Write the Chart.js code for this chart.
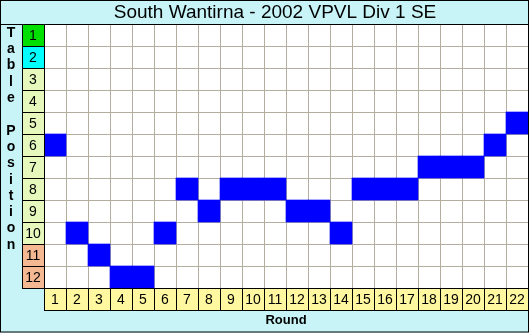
<html>
<head>
  <title>South Wantirna - 2002 VPVL Div 1 SE</title>
  <script src="https://cdn.jsdelivr.net/npm/chart.js@4/dist/chart.umd.min.js"></script>
  <style>
    body{ margin:0; background:#fff; }
    #wrap{ width:529px; height:333px; }
  </style>
</head>
<body>
  <div id="wrap"><canvas id="ladder" width="529" height="333"></canvas></div>

  <script>
    // data
    var chartTitle = 'South Wantirna - 2002 VPVL Div 1 SE';
    var rounds = ['1','2','3','4','5','6','7','8','9','10','11','12','13','14','15','16','17','18','19','20','21','22'];
    var positions = [6,10,11,12,12,10,8,9,8,8,8,9,9,10,8,8,8,7,7,7,6,5];
    var positionLabels = ['1','2','3','4','5','6','7','8','9','10','11','12'];
    var xTitle = 'Round';
    var yTitle = 'Table Position';

    var bg = '#c8f4f8';
    var fontName = '"Liberation Sans", Arial, sans-serif';

    function posColour(i){
      if (i == 0) return '#00e000';
      if (i == 1) return '#00ffff';
      if (i >= 10) return '#f4b892';
      return '#e6f8bc';
    }

    // each round is a floating bar covering one table row
    var cells = positions.map(function(p){ return [p - 1, p]; });

    var framePlugin = {
      id: 'frame',
      beforeDraw: function(chart){
        var ctx = chart.ctx;
        ctx.save();
        ctx.fillStyle = bg;
        ctx.fillRect(0, 0, chart.width, chart.height);
        var a = chart.chartArea;
        ctx.fillStyle = '#ffffff';
        ctx.fillRect(a.left, a.top, a.right - a.left, a.bottom - a.top);
        ctx.restore();
      },
      afterDraw: function(chart){
        var ctx = chart.ctx;
        var a = chart.chartArea;
        var xs = chart.scales.x, ys = chart.scales.y;
        ctx.save();

        // title
        ctx.fillStyle = '#000';
        ctx.font = '19px ' + fontName;
        ctx.textAlign = 'center';
        ctx.textBaseline = 'middle';
        ctx.fillText(chartTitle, 275, 13);
        ctx.fillRect(0, 24, chart.width, 1);

        // position cells on the left
        var cw = 22;
        ctx.font = '14px ' + fontName;
        for (var i = 0; i < positionLabels.length; i++){
          var t = ys.getPixelForValue(i), b = ys.getPixelForValue(i + 1);
          ctx.fillStyle = posColour(i);
          ctx.fillRect(a.left - cw, t, cw, b - t);
          ctx.strokeStyle = '#000';
          ctx.lineWidth = 1;
          ctx.strokeRect(a.left - cw + 0.5, Math.round(t) + 0.5, cw, b - t);
          ctx.fillStyle = '#000';
          ctx.fillText(positionLabels[i], a.left - cw / 2, (t + b) / 2 + 1);
        }

        // round cells along the bottom
        for (var j = 0; j < rounds.length; j++){
          var cx = xs.getPixelForValue(j);
          var l = cx - cw / 2;
          ctx.fillStyle = '#fff8a0';
          ctx.fillRect(l, a.bottom, cw, 22);
          ctx.strokeStyle = '#000';
          ctx.strokeRect(Math.round(l) + 0.5, a.bottom + 0.5, cw, 22);
          ctx.fillStyle = '#000';
          ctx.fillText(rounds[j], cx, a.bottom + 12);
        }

        // axis titles
        ctx.font = 'bold 13px ' + fontName;
        ctx.fillText(xTitle, (a.left + a.right) / 2, 320);
        ctx.font = 'bold 14px ' + fontName;
        var letters = yTitle.split('');
        for (var k = 0; k < letters.length; k++){
          ctx.fillText(letters[k], 11, 33 + k * 16.3);
        }

        // outer border
        ctx.strokeStyle = '#000';
        ctx.strokeRect(0.5, 0.5, chart.width - 1, chart.height - 1.5);
        ctx.restore();
      }
    };

    new Chart(document.getElementById('ladder'), {
      type: 'bar',
      data: {
        labels: rounds,
        datasets: [{
          label: 'Table Position',
          data: cells,
          backgroundColor: '#0000ff',
          borderWidth: 0,
          barPercentage: 1,
          categoryPercentage: 1
        }]
      },
      options: {
        responsive: false,
        animation: false,
        events: [],
        layout: { padding: { left: 44, right: 1, top: 24, bottom: 45 } },
        plugins: {
          legend: { display: false },
          title: { display: false },
          tooltip: { enabled: false }
        },
        scales: {
          x: {
            offset: true,
            grid: { color: '#b4aea0', drawTicks: false, offset: true },
            border: { display: false },
            ticks: { display: false }
          },
          y: {
            min: 0,
            max: 12,
            reverse: true,
            grid: { color: '#b4aea0', drawTicks: false },
            border: { display: false },
            ticks: { display: false, stepSize: 1 }
          }
        }
      },
      plugins: [framePlugin]
    });
  </script>
</body>
</html>
